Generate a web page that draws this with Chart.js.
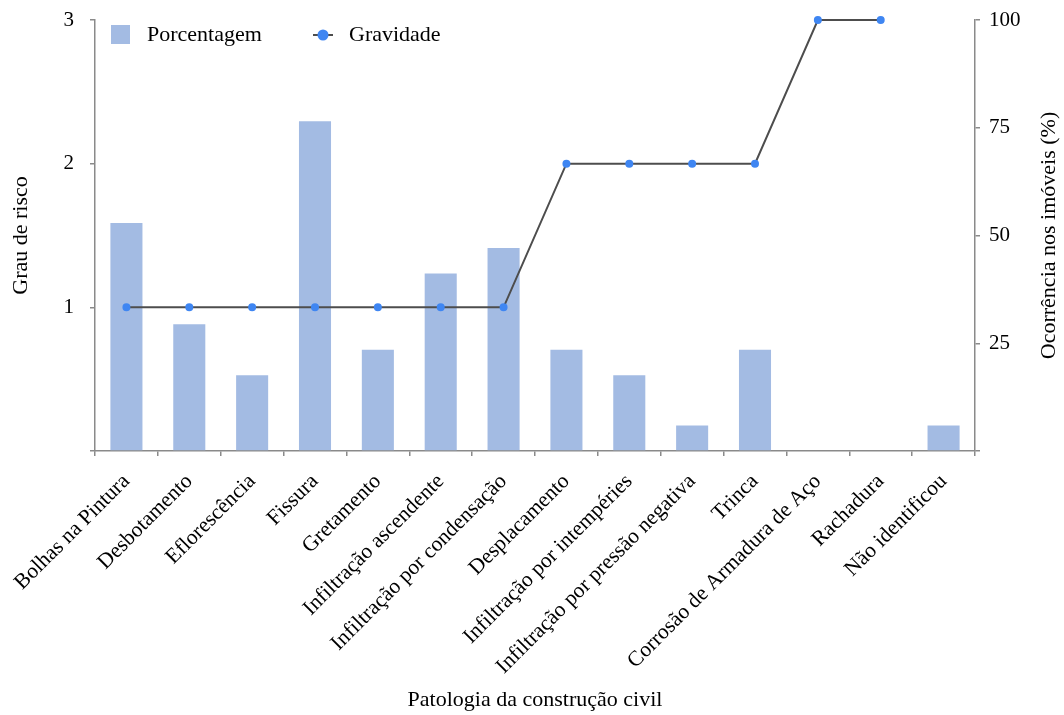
<!DOCTYPE html>
<html>
<head>
<meta charset="utf-8">
<script src="https://cdn.jsdelivr.net/npm/chart.js@4.4.1/dist/chart.umd.min.js"></script>
<style>
  body { margin: 0; background: #fff; }
</style>
</head>
<body>
<canvas id="chart" width="1064" height="715"></canvas>
<script>
"use strict";

// data
const CATEGORIES = [
    "Bolhas na Pintura", "Desbotamento", "Eflorescência", "Fissura", "Gretamento",
    "Infiltração ascendente", "Infiltração por condensação", "Desplacamento",
    "Infiltração por intempéries", "Infiltração por pressão negativa", "Trinca",
    "Corrosão de Armadura de Aço", "Rachadura", "Não identificou"
];
const PORCENTAGEM = [52.9, 29.4, 17.6, 76.5, 23.5, 41.2, 47.1, 23.5, 17.6, 5.9, 23.5, 0, 0, 5.9];
const GRAVIDADE = [1, 1, 1, 1, 1, 1, 1, 2, 2, 2, 2, 3, 3, null];
const RISK_TICKS = [1, 2, 3];
const PCT_TICKS = [25, 50, 75, 100];

const FONT = '"Liberation Serif", "Times New Roman", serif';
const AXIS_GRAY = "#8a8a8a";
const BAR_BLUE = "#a3bbe3";
const DOT_BLUE = "#3f86f2";

// legend drawn inside the plot, top left
const innerLegend = {
    id: "innerLegend",
    afterDraw(chart) {
        let ctx = chart.ctx;
        let area = chart.chartArea;
        let bar = chart.data.datasets[0];
        let line = chart.data.datasets[1];
        let y = area.top + 15;
        ctx.save();
        ctx.font = "22px " + FONT;
        ctx.textBaseline = "middle";
        ctx.fillStyle = bar.backgroundColor;
        ctx.fillRect(area.left + 16, y - 10, 19, 19);
        ctx.fillStyle = "#000";
        ctx.fillText(bar.label, area.left + 52, y);

        let lx = area.left + 228;
        ctx.strokeStyle = line.borderColor;
        ctx.lineWidth = 2;
        ctx.beginPath();
        ctx.moveTo(lx - 10, y);
        ctx.lineTo(lx + 10, y);
        ctx.stroke();
        ctx.fillStyle = line.pointBackgroundColor;
        ctx.beginPath();
        ctx.arc(lx, y, 5.5, 0, Math.PI * 2);
        ctx.fill();
        ctx.fillStyle = "#000";
        ctx.fillText(line.label, lx + 26, y);
        ctx.restore();
    }
};

// right axis title reads bottom-to-top like the left one
const rightTitle = {
    id: "rightTitle",
    afterDraw(chart) {
        let ctx = chart.ctx;
        let area = chart.chartArea;
        ctx.save();
        ctx.font = "22px " + FONT;
        ctx.fillStyle = "#000";
        ctx.textAlign = "center";
        ctx.textBaseline = "middle";
        ctx.translate(1049, (area.top + area.bottom) / 2);
        ctx.rotate(-Math.PI / 2);
        ctx.fillText("Ocorrência nos imóveis (%)", 0, 0);
        ctx.restore();
    }
};

function fixWidth(w) {
    return function(scale) {
        scale.width = w;
        scale.paddingTop = 0;
        scale.paddingBottom = 0;
    };
}

let ctx = document.getElementById("chart").getContext("2d");

let chart = new Chart(ctx, {
    data: {
        labels: CATEGORIES,
        datasets: [
            {
                type: "bar",
                label: "Porcentagem",
                data: PORCENTAGEM,
                yAxisID: "yPct",
                backgroundColor: BAR_BLUE,
                barPercentage: 0.51,
                categoryPercentage: 1,
                order: 2
            },
            {
                type: "line",
                label: "Gravidade",
                data: GRAVIDADE,
                yAxisID: "yRisk",
                borderColor: "#4d4d4d",
                borderWidth: 2,
                pointBackgroundColor: DOT_BLUE,
                pointBorderColor: DOT_BLUE,
                pointRadius: 3,
                tension: 0,
                clip: false,
                order: 1
            }
        ]
    },
    options: {
        responsive: false,
        animation: false,
        layout: { padding: { top: 20, left: 0, right: 0, bottom: 0 } },
        plugins: {
            legend: { display: false },
            tooltip: { enabled: false }
        },
        scales: {
            x: {
                grid: { display: true, drawOnChartArea: false, offset: true, color: AXIS_GRAY, lineWidth: 1.5, tickLength: 5 },
                border: { color: AXIS_GRAY, width: 1.5 },
                ticks: {
                    autoSkip: false, minRotation: 45, maxRotation: 45, padding: 13,
                    color: "#000", font: { family: FONT, size: 21.5 }
                },
                title: {
                    display: true, text: "Patologia da construção civil", color: "#000",
                    font: { family: FONT, size: 22 }, padding: { top: 4, bottom: 2 }
                },
                afterFit(scale) {
                    scale.height = 264;
                    scale.paddingLeft = 0;
                    scale.paddingRight = 0;
                }
            },
            yRisk: {
                position: "left",
                min: 0, max: 3,
                grid: { display: true, drawOnChartArea: false, color: AXIS_GRAY, lineWidth: 1.5, tickLength: 5 },
                border: { color: AXIS_GRAY, width: 1.5 },
                ticks: {
                    stepSize: 1, padding: 16, color: "#000", font: { family: FONT, size: 21 },
                    callback: v => RISK_TICKS.includes(v) ? String(v) : ""
                },
                title: {
                    display: true, text: "Grau de risco", color: "#000",
                    font: { family: FONT, size: 22 }, padding: { top: 8, bottom: 0 }
                },
                afterFit: fixWidth(95)
            },
            yPct: {
                position: "right",
                min: 0, max: 100,
                grid: { display: true, drawOnChartArea: false, color: AXIS_GRAY, lineWidth: 1.5, tickLength: 5 },
                border: { color: AXIS_GRAY, width: 1.5 },
                ticks: {
                    stepSize: 25, padding: 9, color: "#000", font: { family: FONT, size: 21 },
                    callback: v => PCT_TICKS.includes(v) ? String(v) : ""
                },
                afterFit: fixWidth(89)
            }
        }
    },
    plugins: [innerLegend, rightTitle]
});
</script>
</body>
</html>
